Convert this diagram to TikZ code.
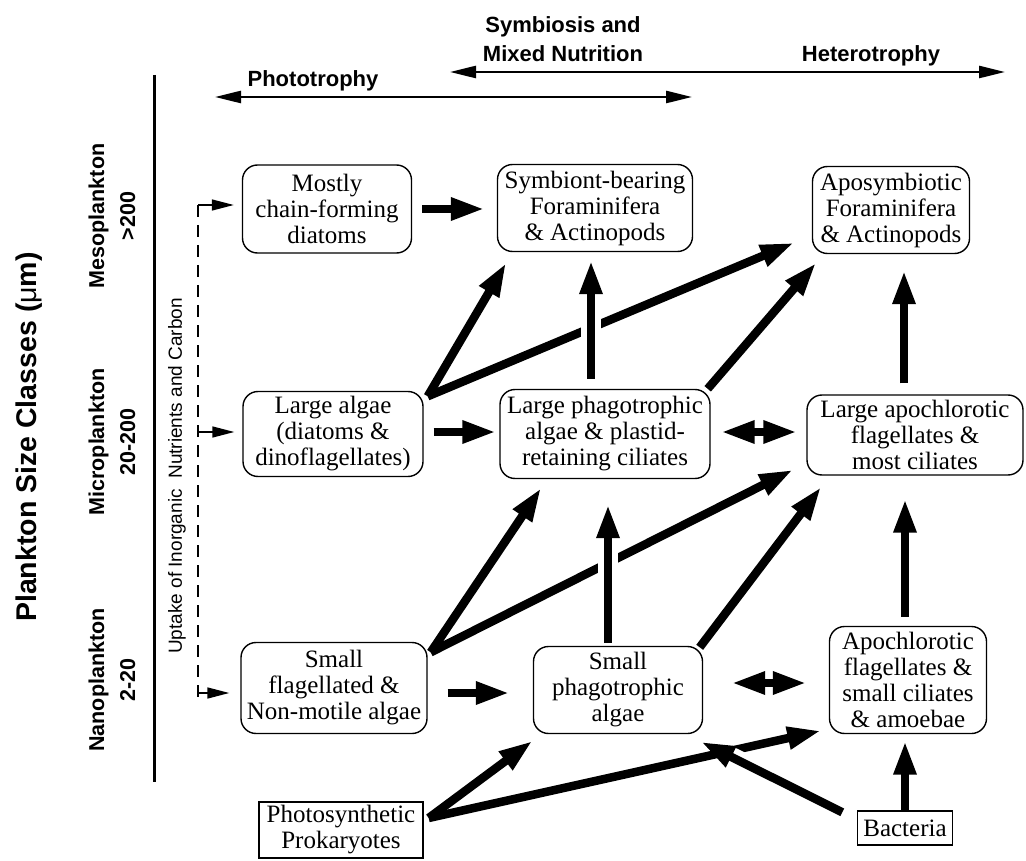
\documentclass[tikz,border=0pt]{standalone}
\usepackage{fontspec}
\setmainfont{Liberation Serif}
\newfontfamily\labfont{Liberation Sans}
\usetikzlibrary{arrows.meta,calc}
\begin{document}
\begin{tikzpicture}[x=1pt,y=-1pt,
  box/.style={draw, line width=1.4pt, rounded corners=15pt, align=center, inner sep=0pt,
    font=\fontsize{25}{26}\selectfont},
  sqbox/.style={draw, line width=1.4pt, align=center, inner sep=0pt,
    font=\fontsize{25}{26}\selectfont},
  fat/.style={line width=8.5pt, -{Triangle[length=34pt,width=21pt]}},
  fatboth/.style={line width=8.5pt, {Triangle[length=34pt,width=21pt]}-{Triangle[length=34pt,width=21pt]}},
  gap/.style={preaction={draw=white, line width=20pt, -, shorten >=34pt, shorten <=4pt}},
  axisarrow/.style={line width=2.5pt, {Triangle[length=26pt,width=12pt]}-{Triangle[length=26pt,width=12pt]}},
  uparrow/.style={line width=1.5pt, -{Triangle[length=22pt,width=11pt]}},
  lab/.style={font=\labfont\bfseries\fontsize{22}{29}\selectfont, align=center, inner sep=0pt},
  sizelab/.style={font=\labfont\bfseries\fontsize{21.5}{31}\selectfont, align=center, rotate=90, inner sep=0pt}
]
\useasboundingbox (0,0) rectangle (1026,861);

% axis labels
\node[font=\labfont\bfseries\fontsize{28.5}{30}\selectfont, rotate=90, inner sep=0pt] (title) at (29,437) {Plankton Size Classes ({\mdseries μ}m)};
\node[sizelab] (meso) at (112,216) {Mesoplankton\\>200};
\node[sizelab] (micro) at (112,442) {Microplankton\\20-200};
\node[sizelab] (nano) at (112,680) {Nanoplankton\\2-20};
\coordinate (vtop) at (154,75);
\coordinate (vbot) at (154,782);
\draw[line width=3pt] (vtop) -- (vbot);

% trophic axes
\coordinate (phL) at (215,97);
\coordinate (phR) at (692,97);
\draw[axisarrow] (phL) -- (phR);
\node[lab] (phototrophy) at (313,81) {Phototrophy};
\coordinate (hL) at (450,72);
\coordinate (hR) at (1005,72);
\draw[axisarrow] (hL) -- (hR);
\node[lab] (symbmix) at (563,39) {Symbiosis and\\Mixed Nutrition};
\node[lab] (hetero) at (871,56) {Heterotrophy};

% boxes
\node[box, minimum width=169pt, minimum height=88pt] (mostly) at (327,209) {Mostly\\chain-forming\\diatoms};
\node[box, minimum width=195pt, minimum height=87pt] (symb) at (595,208) {Symbiont-bearing\\Foraminifera\\\& Actinopods};
\node[box, minimum width=157pt, minimum height=87pt] (apos) at (891,210) {Aposymbiotic\\Foraminifera\\\& Actinopods};
\node[box, minimum width=180pt, minimum height=85pt] (lalgae) at (333,434) {Large algae\\(diatoms \&\\dinoflagellates)};
\node[box, minimum width=210pt, minimum height=89pt] (lphago) at (605,434) {Large phagotrophic\\algae \& plastid-\\retaining ciliates};
\node[box, minimum width=216pt, minimum height=80pt] (lapo) at (915,435) {Large apochlorotic\\flagellates \&\\most ciliates};
\node[box, minimum width=186pt, minimum height=91pt] (sflag) at (334,688) {Small\\flagellated \&\\Non-motile algae};
\node[box, minimum width=169pt, minimum height=87pt] (sphago) at (618,690) {Small\\phagotrophic\\algae};
\node[box, minimum width=157pt, minimum height=107pt] (apoch) at (908,680) {Apochlorotic\\flagellates \&\\small ciliates\\\& amoebae};
\node[sqbox, minimum width=164pt, minimum height=56pt] (photo) at (341,830) {Photosynthetic\\Prokaryotes};
\node[sqbox, minimum width=95pt, minimum height=34pt] (bact) at (905,828) {Bacteria};

% uptake of nutrients (dashed)
\node[font=\labfont\fontsize{19}{20}\selectfont, rotate=90, inner sep=0pt] (uptake) at (177,476) {Uptake of Inorganic\ \ Nutrients and Carbon};
\coordinate (d1) at (198,205);
\coordinate (d2) at (198,432);
\coordinate (d3) at (198,693);
\draw[line width=1.5pt, dash pattern=on 12pt off 8pt] (d1) -- (d3);
\draw[uparrow, shorten >=8pt] (d1) -- (d1 -| mostly.west);
\draw[uparrow, shorten >=8pt] (d2) -- (d2 -| lalgae.west);
\draw[uparrow, shorten >=11pt] (d3) -- (d3 -| sflag.west);
\draw[line width=1.5pt] ($(d3)+(0,-4)$) -- ($(d3)+(0,4)$);

% horizontal arrows
\draw[fat, shorten <=10pt, shorten >=12pt] (mostly.east) -- (mostly.east -| symb.west);
\draw[fat, shorten <=10pt, shorten >=3pt] ($(lalgae.east)+(0,-2)$) -- ($(lalgae.east -| lphago.west)+(0,-2)$);
\draw[fat] ($(sflag.east)+(20,5)$) -- ($(sphago.west)+(-23,3)$);
\draw[fatboth] ($(lphago.east)+(10,-2)$) -- ($(lapo.west)+(-9,-3)$);
\draw[fatboth] ($(sphago.east)+(28,-7)$) -- ($(apoch.west)+(-22,3)$);

% middle row upward
\draw[fat] ($(lalgae.north east)+(4,5.5)$) -- ($(symb.south west)+(9.5,10.5)$);
\draw[fat] ($(lalgae.north east)+(4,5.5)$) -- ($(apos.south west)+(-17.5,-11.5)$);
\draw[fat, gap] ($(lphago.north)+(-14,-10)$) -- ($(symb.south)+(-4,8)$);
\draw[fat] ($(lphago.north east)+(-3,0)$) -- ($(apos.south west)+(4.5,8.5)$);
\draw[fat] ($(lapo.north)+(-11,-11)$) -- ($(apos.south)+(13,16)$);

% lower row upward
\draw[fat] ($(sflag.north east)+(3,10.5)$) -- ($(lphago.south west)+(42,8.5)$);
\draw[fat] ($(sflag.north east)+(3,10.5)$) -- ($(lapo.south west)+(-13,-6)$);
\draw[fat, gap] ($(sphago.north)+(-10,-3)$) -- ($(lphago.south)+(3,25)$);
\draw[fat] ($(sphago.north east)+(-3.5,1.5)$) -- ($(lapo.south west)+(15,11)$);
\draw[fat] ($(apoch.north)+(-3,-9)$) -- ($(lapo.south)+(-10,23)$);

% bottom
\draw[fat] ($(photo.east)+(5,-12)$) -- ($(sphago.south west)+(0,6.5)$);
\draw[fat] ($(photo.east)+(5,-12)$) -- ($(apoch.south west)+(-7.5,-3.5)$);
\draw[fat, gap] ($(bact.north west)+(-14.5,2)$) -- ($(sphago.south east)+(-2.5,7.5)$);
\draw[fat] (bact.north) -- ($(apoch.south)+(-3,6.5)$);
\end{tikzpicture}
\end{document}
